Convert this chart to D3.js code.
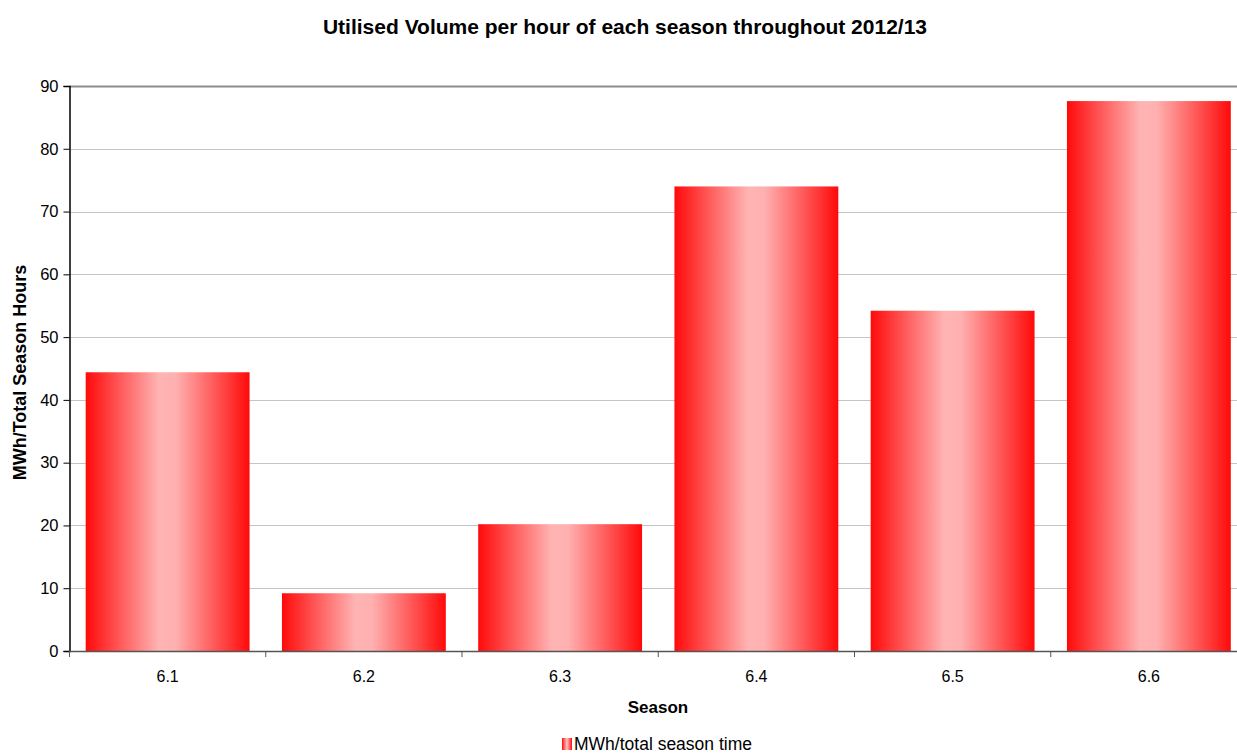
<!DOCTYPE html>
<html>
<head>
<meta charset="utf-8">
<script src="https://cdn.jsdelivr.net/npm/d3@7"></script>
<style>
  html, body { margin: 0; padding: 0; background: #fff; }
  svg { display: block; font-family: "Liberation Sans", Arial, sans-serif; }
</style>
</head>
<body>
<svg id="chart" width="1237" height="755"></svg>
<script>
// Season categories and utilised volume per hour (MWh / total season hours)
const seasons = ["6.1", "6.2", "6.3", "6.4", "6.5", "6.6"];
const volumePerHour = [44.4, 9.2, 20.2, 74.0, 54.2, 87.6];
const yTicks = [0, 10, 20, 30, 40, 50, 60, 70, 80, 90];

const titleText = "Utilised Volume per hour of each season throughout 2012/13";
const xLabel = "Season";
const yLabel = "MWh/Total Season Hours";
const legendLabel = "MWh/total season time";

const svg = d3.select("#chart");
const margin = { left: 69.5, right: 1247, top: 86, bottom: 651 };

const x = d3.scaleBand()
  .domain(seasons)
  .range([margin.left, margin.right])
  .paddingInner(0.165)
  .paddingOuter(0.0825);

const y = d3.scaleLinear()
  .domain([0, 90])
  .range([margin.bottom, margin.top]);

// Horizontal bar shading: saturated red edges, pale pink centre
const defs = svg.append("defs");
const grad = defs.append("linearGradient")
  .attr("id", "barShade")
  .attr("x1", "0%").attr("x2", "100%").attr("y1", "0%").attr("y2", "0%");
[[0, "#ff0a0a"], [0.45, "#ffb4b4"], [0.55, "#ffb0b0"], [1, "#ff0a0a"]].forEach(([o, c]) => {
  grad.append("stop").attr("offset", o).attr("stop-color", c);
});

// Gridlines
svg.append("g")
  .selectAll("line")
  .data(yTicks.filter(d => d > 0))
  .join("line")
  .attr("x1", margin.left).attr("x2", margin.right)
  .attr("y1", d => Math.round(y(d)) + 0.5).attr("y2", d => Math.round(y(d)) + 0.5)
  .attr("stroke", d => d === 90 ? "#8c8c8c" : "#c4c4c4")
  .attr("stroke-width", d => d === 90 ? 2 : 1);

// Bars
svg.append("g")
  .selectAll("rect")
  .data(seasons.map((s, i) => ({ s, v: volumePerHour[i] })))
  .join("rect")
  .attr("x", d => x(d.s))
  .attr("width", x.bandwidth())
  .attr("y", d => y(d.v))
  .attr("height", d => y(0) - y(d.v))
  .attr("fill", "url(#barShade)");

// Y axis
const yAxis = svg.append("g")
  .attr("transform", `translate(${margin.left},0)`)
  .call(d3.axisLeft(y).tickValues(yTicks).tickSize(6).tickPadding(5).tickFormat(d3.format("d")));
yAxis.select(".domain").attr("stroke", "#000").attr("stroke-width", 1.5);
yAxis.selectAll(".tick line").attr("stroke", "#000");
yAxis.selectAll("text").attr("font-size", 16.5).attr("fill", "#000")
  .attr("font-family", "'Liberation Sans', Arial, sans-serif");

// X axis with ticks at category boundaries
const xAxisG = svg.append("g").attr("transform", `translate(0,${margin.bottom})`);
xAxisG.append("line")
  .attr("x1", margin.left).attr("x2", margin.right)
  .attr("y1", 0.5).attr("y2", 0.5)
  .attr("stroke", "#555").attr("stroke-width", 1.5);
const step = x.step();
const boundaries = d3.range(seasons.length + 1).map(i => margin.left + i * step);
xAxisG.selectAll("line.tk")
  .data(boundaries)
  .join("line")
  .attr("class", "tk")
  .attr("x1", d => d).attr("x2", d => d)
  .attr("y1", 0).attr("y2", 6)
  .attr("stroke", "#555");
xAxisG.selectAll("text")
  .data(seasons)
  .join("text")
  .attr("x", d => x(d) + x.bandwidth() / 2)
  .attr("y", 31)
  .attr("text-anchor", "middle")
  .attr("font-size", 16)
  .text(d => d);

// Title and axis labels
svg.append("text")
  .attr("x", 625).attr("y", 34)
  .attr("text-anchor", "middle")
  .attr("font-size", 21).attr("font-weight", "bold")
  .text(titleText);

svg.append("text")
  .attr("x", 658).attr("y", 713)
  .attr("text-anchor", "middle")
  .attr("font-size", 17).attr("font-weight", "bold")
  .text(xLabel);

svg.append("text")
  .attr("transform", `translate(26,${(margin.top + margin.bottom) / 2 + 4}) rotate(-90)`)
  .attr("text-anchor", "middle")
  .attr("font-size", 18).attr("font-weight", "bold")
  .text(yLabel);

// Legend
const legend = svg.append("g").attr("transform", "translate(562,738)");
legend.append("rect")
  .attr("x", 0).attr("y", 0).attr("width", 10).attr("height", 12)
  .attr("fill", "url(#barShade)");
legend.append("text")
  .attr("x", 12).attr("y", 12)
  .attr("font-size", 17.5)
  .text(legendLabel);
</script>
</body>
</html>
